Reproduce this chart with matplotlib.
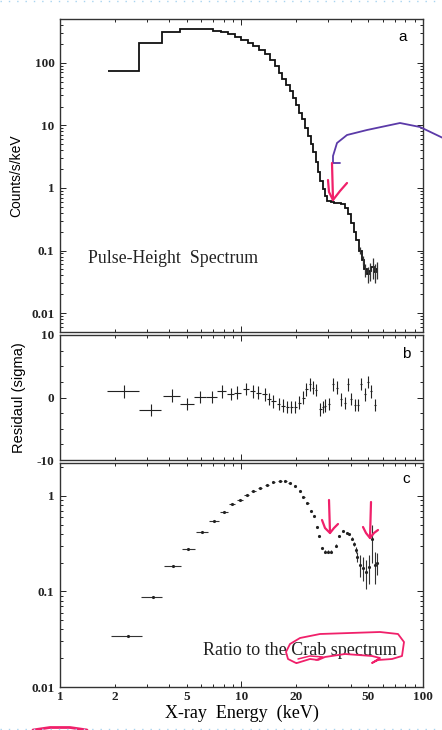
import numpy as np
import matplotlib.pyplot as plt
from matplotlib.ticker import LogLocator, FuncFormatter, NullFormatter, MultipleLocator, FixedLocator
from matplotlib.lines import Line2D

# panel a: pulse-height spectrum (bin edges in keV, counts/s/keV)
pha_edges = [1.84, 2.72, 3.63, 4.6, 5.2, 5.8, 6.4, 7.0, 7.7, 8.4, 9.2, 10.0, 10.8, 11.6,
             12.5, 13.4, 14.3, 15.2, 16.0, 16.8, 17.6, 18.4, 19.2, 20.0, 20.8, 21.6, 22.4,
             23.2, 24.0, 24.8, 25.6, 26.4, 27.2, 28.0, 28.8, 29.6, 31.0, 32.5, 34.0, 35.5,
             37.0, 38.5, 40.0, 41.5, 43.0, 44.5, 46.0, 47.5, 49.0, 50.5, 52.0, 53.5, 55.0, 56.0]
pha_counts = [74, 209, 313, 345, 350, 350, 340, 325, 305, 285, 260, 235, 210, 185,
              160, 140, 112, 90, 68, 55, 44, 35, 27, 21, 16, 12.5, 9.0,
              6.8, 5.0, 3.7, 2.6, 1.8, 1.3, 0.95, 0.75, 0.62, 0.60, 0.58, 0.58, 0.56,
              0.48, 0.38, 0.28, 0.20, 0.145, 0.10, 0.07, 0.05, 0.042, 0.048, 0.055, 0.045, 0.05]
pha_err_e = [45.2, 46.8, 48.2, 49.8, 51.2, 52.8, 54.2, 55.5]
pha_err_v = [0.10, 0.07, 0.05, 0.042, 0.048, 0.055, 0.045, 0.05]
pha_err_y = [0.012, 0.012, 0.012, 0.012, 0.015, 0.02, 0.015, 0.015]

# panel b: residuals (sigma)
res_e = [2.26, 3.17, 4.15, 5.02, 5.9, 6.85, 7.8, 8.7, 9.5, 10.6, 11.5, 12.4, 13.4, 14.2,
         15.0, 16.0, 17.0, 17.9, 18.8, 19.8, 20.8, 21.9, 22.8, 23.8, 24.8, 25.8, 27.2,
         28.0, 28.9, 30.4, 32.0, 33.6, 35.5, 37.0, 38.7, 40.3, 42.0, 44.0, 45.7, 48.0,
         50.0, 51.7, 54.5]
res_val = [1.0, -2.0, 0.3, -1.0, 0.1, 0.1, 1.0, 0.6, 0.8, 1.4, 1.0, 0.8, 0.5, -0.2,
           -0.6, -1.0, -1.3, -1.5, -1.5, -1.5, -0.8, 0.0, 1.3, 2.1, 1.6, 1.2, -1.9,
           -1.5, -1.3, -1.0, 2.1, 1.6, -0.3, -0.9, 2.1, -0.2, -1.2, -1.2, 2.2, 0.5,
           2.5, 1.0, -1.2]
res_dx = [0.45, 0.45, 0.45, 0.42, 0.45, 0.5, 0.45, 0.43, 0.42, 0.4, 0.4, 0.4, 0.4, 0.4,
          0.4, 0.4, 0.4, 0.4, 0.4, 0.4, 0.4, 0.4, 0.4, 0.4, 0.4, 0.4, 0.4,
          0.4, 0.4, 0.5, 0.5, 0.5, 0.5, 0.5, 0.5, 0.5, 0.5, 0.6, 0.6, 0.6,
          0.6, 0.6, 0.6]

# panel c: ratio to the Crab spectrum
rat_e = [2.36, 3.24, 4.2, 5.1, 6.05, 7.07, 8.03, 8.85, 9.84, 10.7, 11.6, 12.7, 13.8,
         15.0, 16.3, 17.4, 18.5, 19.7, 21.0, 21.9, 23.1, 24.0, 25.1, 25.9, 26.8, 27.9,
         28.8, 30.1, 31.1, 33.0, 34.5, 36.3, 37.9, 39.2, 40.4, 41.6, 42.5, 43.4, 45.2,
         46.8, 48.8, 50.5, 52.6, 54.3, 55.9]
rat_val = [0.034, 0.088, 0.185, 0.28, 0.415, 0.54, 0.67, 0.81, 0.91, 1.02, 1.11, 1.2, 1.3,
           1.39, 1.43, 1.41, 1.36, 1.25, 1.11, 0.98, 0.83, 0.70, 0.61, 0.47, 0.38, 0.285,
           0.26, 0.26, 0.26, 0.30, 0.38, 0.43, 0.41, 0.40, 0.355, 0.31, 0.27, 0.23, 0.19,
           0.177, 0.16, 0.18, 0.35, 0.19, 0.20]
rat_dx = [0.46, 0.43, 0.46, 0.42, 0.45, 0.45, 0.4, 0.35, 0.35, 0.35, 0.35, 0.35, 0.35,
          0.35, 0.35, 0.35, 0.35, 0.35, 0.35, 0.35, 0.3, 0.3, 0.3, 0.3, 0.3, 0.3,
          0.3, 0.3, 0.3, 0.3, 0.3, 0.3, 0.3, 0.3, 0.3, 0.3, 0.3, 0.3, 0.3,
          0.3, 0.3, 0.3, 0.3, 0.3, 0.3]
rat_dy = [0.001, 0.002, 0.003, 0.004, 0.005, 0.006, 0.007, 0.008, 0.008, 0.008, 0.008, 0.008, 0.008,
          0.008, 0.008, 0.008, 0.008, 0.008, 0.008, 0.008, 0.008, 0.008, 0.008, 0.008, 0.008, 0.008,
          0.008, 0.008, 0.008, 0.01, 0.01, 0.01, 0.01, 0.01, 0.012, 0.015, 0.018, 0.025, 0.05,
          0.05, 0.055, 0.06, 0.15, 0.07, 0.05]

xticklabels_c = [1, 2, 5, 10, 20, 50, 100]

W, H = 442, 730
serif = ['Liberation Serif', 'DejaVu Serif']
sans = ['Liberation Sans Narrow', 'Liberation Sans', 'DejaVu Sans']
plt.rcParams['font.family'] = serif
plt.rcParams['axes.unicode_minus'] = False

fig = plt.figure(figsize=(W / 100, H / 100), dpi=100)


def box(x0, y0, x1, y1):
    return [x0 / W, 1 - y1 / H, (x1 - x0) / W, (y1 - y0) / H]


ax_a = fig.add_axes(box(60, 19, 423, 332))
ax_b = fig.add_axes(box(60, 335, 423, 460))
ax_c = fig.add_axes(box(60, 463, 423, 687))


def xlabels(v, pos):
    if v in xticklabels_c:
        return '%g' % v
    return ''


for ax in (ax_a, ax_b, ax_c):
    ax.set_xscale('log')
    ax.set_xlim(1, 100)
    ax.tick_params(which='both', direction='in', top=True, right=True, width=0.7, colors='#222222')
    ax.tick_params(which='major', length=4.5)
    ax.tick_params(which='minor', length=2.5)
    ax.xaxis.set_major_locator(LogLocator(base=10, numticks=5))
    ax.xaxis.set_minor_locator(LogLocator(base=10, subs=np.arange(2, 10), numticks=10))
    for s in ax.spines.values():
        s.set_linewidth(1.0)
        s.set_color('#333333')

for ax in (ax_a, ax_b):
    ax.xaxis.set_major_formatter(NullFormatter())
    ax.xaxis.set_minor_formatter(NullFormatter())

ax_c.xaxis.set_major_formatter(FuncFormatter(xlabels))
ax_c.xaxis.set_minor_formatter(FuncFormatter(xlabels))

# --- panel a
ax_a.stairs(pha_counts, pha_edges, baseline=None, color='#111111', lw=1.3)
ax_a.errorbar(pha_err_e, pha_err_v, yerr=pha_err_y, fmt='none', ecolor='#333333', elinewidth=0.9)
ax_a.set_yscale('log')
ax_a.set_ylim(0.005, 500)
ax_a.yaxis.set_major_locator(LogLocator(base=10, numticks=10))
ax_a.yaxis.set_minor_locator(LogLocator(base=10, subs=np.arange(2, 10), numticks=10))
ax_a.yaxis.set_major_formatter(FuncFormatter(lambda v, p: '%g' % v if 0.009 < v < 200 else ''))
ax_a.yaxis.set_minor_formatter(NullFormatter())
ax_a.set_ylabel('Counts/s/keV', family=sans, fontsize=10, labelpad=6)
ax_a.text(0.077, 0.236, 'Pulse-Height  Spectrum', transform=ax_a.transAxes, fontsize=12.8,
          va='center', ha='left', color='#222222')
ax_a.text(0.955, 0.965, 'a', transform=ax_a.transAxes, family=sans, fontsize=11,
          ha='right', va='top')

# --- panel b
ax_b.errorbar(res_e, res_val, xerr=res_dx, yerr=[1.0] * len(res_e), fmt='none',
              ecolor='#222222', elinewidth=0.8)
ax_b.set_ylim(-10, 10)
ax_b.yaxis.set_major_locator(FixedLocator([-10, 0, 10]))
ax_b.yaxis.set_minor_locator(MultipleLocator(2.5))
ax_b.set_ylabel('Residaul (sigma)', family=sans, fontsize=10.5, labelpad=8)
ax_b.text(0.965, 0.9, 'b', transform=ax_b.transAxes, family=sans, fontsize=11,
          ha='right', va='top')

# --- panel c
ax_c.errorbar(rat_e, rat_val, xerr=rat_dx, yerr=rat_dy, fmt='.', ms=2.5, color='#222222',
              ecolor='#333333', elinewidth=0.8)
ax_c.set_yscale('log')
ax_c.set_ylim(0.01, 2.2)
ax_c.yaxis.set_major_locator(LogLocator(base=10, numticks=10))
ax_c.yaxis.set_minor_locator(LogLocator(base=10, subs=np.arange(2, 10), numticks=10))
ax_c.yaxis.set_major_formatter(FuncFormatter(lambda v, p: '%g' % v))
ax_c.yaxis.set_minor_formatter(NullFormatter())
ax_c.text(0.395, 0.165, 'Ratio to the Crab spectrum', transform=ax_c.transAxes, fontsize=13,
          va='center', ha='left', color='#222222')
ax_c.text(0.965, 0.96, 'c', transform=ax_c.transAxes, family=sans, fontsize=11,
          ha='right', va='top')
ax_c.set_xlabel('X-ray  Energy  (keV)', fontsize=13, labelpad=1)

fig.canvas.draw()
for ax in (ax_a, ax_b, ax_c):
    labs = (ax.get_yticklabels() + ax.get_xticklabels() + ax.get_xticklabels(minor=True))
    for lab in labs:
        lab.set_fontweight('bold')
        lab.set_fontsize(9.5)
    ax.tick_params(axis='y', which='both', pad=4)
    ax.tick_params(axis='x', which='both', pad=3)


# hand-drawn marks on the scan (figure pixel coordinates)
def pen(xs, ys, color, lw=1.6):
    fig.add_artist(Line2D([x / W for x in xs], [1 - y / H for y in ys], color=color, lw=lw,
                          solid_capstyle='round', solid_joinstyle='round', transform=fig.transFigure))


pink = '#f0206a'
purple = '#5b3aa8'
pen([340, 333, 333, 337, 347, 367, 400, 420, 443], [163, 163, 156, 143, 135, 130, 123, 127, 138], purple, 1.3)
pen([332, 333], [163, 200], pink)
pen([328, 329, 333, 340, 347], [180, 192, 200, 191, 183], pink)
pen([329, 330], [500, 533], pink)
pen([322, 325, 330, 334, 338], [520, 528, 533, 528, 524], pink)
pen([371, 370], [502, 538], pink)
pen([363, 366, 370, 374, 378], [527, 533, 538, 533, 530], pink)
pen([296, 288, 286, 290, 300, 320, 350, 380, 398, 404, 402, 392, 378, 372, 380, 372, 345, 325, 318, 310, 297],
    [663, 659, 652, 644, 638, 634, 633, 632, 634, 642, 656, 659, 660, 663, 658, 656, 654, 657, 660, 659, 663], pink, 1.3)
pen([298, 310, 323, 316], [659, 656, 657, 660], pink, 1.1)
pen([33, 50, 70, 87], [730, 727.5, 727.5, 730], pink, 2.0)
fig.add_artist(Line2D([0, 1], [1 - 1 / H, 1 - 1 / H], color='#a8d4f0', lw=1, ls=(0, (1, 5)),
                      transform=fig.transFigure))
fig.add_artist(Line2D([0, 1], [1 - 729 / H, 1 - 729 / H], color='#a8d4f0', lw=1, ls=(0, (1, 5)),
                      transform=fig.transFigure))

fig.savefig('out.png', dpi=100)
